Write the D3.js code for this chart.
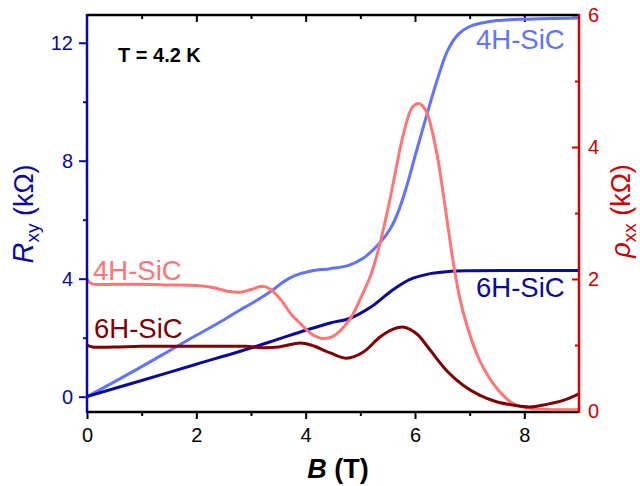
<!DOCTYPE html>
<html><head><meta charset="utf-8">
<script src="https://cdn.jsdelivr.net/npm/d3@7"></script>
<style>
body{margin:0;background:#fff}
svg{display:block}
text{font-family:"Liberation Sans",Arial,sans-serif}
</style>
</head><body>
<svg id="c" width="640" height="486"></svg>
<script>
// ---- data ----
const bTicks = [0, 2, 4, 6, 8];
const bMinor = [1, 3, 5, 7];
const rxyTicks = [0, 4, 8, 12];
const rxyMinor = [2, 6, 10];
const rhoTicks = [0, 2, 4, 6];
const rhoMinor = [1, 3, 5];

// R_xy 4H-SiC (kOhm), left axis
const rxy4H_B = [0, 0.5, 1, 1.5, 2, 2.5, 2.8, 3.0, 3.4, 3.6, 3.8, 4.1, 4.45, 4.8, 5.05, 5.35, 5.55, 5.7, 5.85, 6.0, 6.2, 6.4, 6.6, 6.8, 7.0, 7.2, 7.5, 8.0, 9.0];
const rxy4H   = [0, 0.5, 1.02, 1.55, 2.08, 2.6, 2.94, 3.15, 3.62, 3.9, 4.1, 4.26, 4.34, 4.46, 4.69, 5.2, 5.7, 6.3, 7.15, 8.15, 9.45, 10.7, 11.75, 12.3, 12.55, 12.66, 12.75, 12.8, 12.84];
// R_xy 6H-SiC
const rxy6H_B = [0, 1, 2, 3, 3.5, 4.0, 4.45, 4.8, 5.2, 5.55, 5.9, 6.3, 6.65, 7.0, 8.0, 9.0];
const rxy6H   = [0, 0.55, 1.1, 1.65, 1.95, 2.25, 2.5, 2.65, 3.05, 3.56, 3.97, 4.18, 4.25, 4.27, 4.28, 4.28];
// rho_xx 4H-SiC (kOhm), right axis
const rho4H_B = [0, 0.08, 0.5, 1, 1.5, 2.0, 2.3, 2.6, 2.8, 3.0, 3.2, 3.35, 3.55, 3.75, 3.9, 4.1, 4.3, 4.5, 4.8, 5.0, 5.2, 5.36, 5.54, 5.79, 5.95, 6.07, 6.2, 6.4, 6.55, 6.73, 6.88, 7.18, 7.5, 7.8, 8.1, 8.5, 9.0];
const rho4H   = [2.0, 1.93, 1.92, 1.92, 1.91, 1.9, 1.87, 1.81, 1.8, 1.84, 1.89, 1.85, 1.68, 1.45, 1.33, 1.17, 1.1, 1.13, 1.38, 1.7, 2.08, 2.54, 3.2, 4.2, 4.6, 4.66, 4.55, 3.9, 3.1, 2.1, 1.5, 0.77, 0.34, 0.11, 0.04, 0.02, 0.02];
// rho_xx 6H-SiC
const rho6H_B = [0, 0.1, 0.5, 1, 2, 2.9, 3.2, 3.5, 3.9, 4.1, 4.45, 4.75, 5.05, 5.36, 5.6, 5.8, 6.03, 6.28, 6.58, 6.88, 7.18, 7.49, 7.79, 8.1, 8.41, 8.71, 9.0];
const rho6H   = [1.0, 0.97, 0.97, 0.98, 0.98, 0.98, 0.96, 0.97, 1.03, 1.0, 0.88, 0.8, 0.89, 1.12, 1.24, 1.27, 1.17, 0.92, 0.61, 0.39, 0.24, 0.14, 0.09, 0.06, 0.1, 0.16, 0.26];

// ---- layout ----
const L = 87, R = 579, T = 15, Bt = 412;
const cBlueL = "#6073ff", cBlueD = "#0a0a9c", cSalmon = "#ff7474", cRedD = "#800000";
const cAxL = "#0a0aa0", cAxR = "#d00000";
const svg = d3.select("#c");

const x = d3.scaleLinear().domain([0, 9]).range([L, R]);
const yL = d3.scaleLinear().domain([-0.52, 12.94]).range([Bt, T]);
const yR = d3.scaleLinear().domain([0, 6]).range([411, T]);

function style(g, color, fs) {
  g.select(".domain").remove();
  g.selectAll(".tick line").attr("stroke", color).attr("stroke-width", 2);
  g.selectAll(".tick text").attr("fill", color).attr("font-size", fs).attr("font-family", '"Liberation Sans",Arial,sans-serif');
}

// bottom axis
const gb = svg.append("g").attr("transform", `translate(0,${Bt})`)
  .call(d3.axisBottom(x).tickValues(bTicks).tickSize(7).tickPadding(9).tickFormat(d3.format("d")));
style(gb, "#000", 20);
const gbm = svg.append("g").attr("transform", `translate(0,${Bt})`)
  .call(d3.axisBottom(x).tickValues(bMinor).tickSize(4).tickFormat(""));
style(gbm, "#000", 20);
// top axis (inward)
const gt = svg.append("g").attr("transform", `translate(0,${T})`)
  .call(d3.axisTop(x).tickValues(bTicks.filter(d => d > 0)).tickSize(-7).tickFormat(""));
style(gt, "#000", 20);
const gtm = svg.append("g").attr("transform", `translate(0,${T})`)
  .call(d3.axisTop(x).tickValues(bMinor).tickSize(-4).tickFormat(""));
style(gtm, "#000", 20);
// left axis
const gl = svg.append("g").attr("transform", `translate(${L},0)`)
  .call(d3.axisLeft(yL).tickValues(rxyTicks).tickSize(8).tickPadding(6).tickFormat(d3.format("d")));
style(gl, cAxL, 20);
const glm = svg.append("g").attr("transform", `translate(${L},0)`)
  .call(d3.axisLeft(yL).tickValues(rxyMinor).tickSize(4).tickFormat(""));
style(glm, cAxL, 20);
// right axis (inward ticks)
const gr = svg.append("g").attr("transform", `translate(${R},0)`)
  .call(d3.axisRight(yR).tickValues(rhoTicks).tickSize(-7).tickPadding(9).tickFormat(d3.format("d")));
style(gr, cAxR, 20);
const grm = svg.append("g").attr("transform", `translate(${R},0)`)
  .call(d3.axisRight(yR).tickValues(rhoMinor).tickSize(-4).tickFormat(""));
style(grm, cAxR, 20);

// frame lines
svg.append("line").attr("x1", L).attr("x2", R).attr("y1", T).attr("y2", T).attr("stroke", "#000").attr("stroke-width", 2.5);
svg.append("line").attr("x1", L).attr("x2", R).attr("y1", Bt).attr("y2", Bt).attr("stroke", "#000").attr("stroke-width", 2.5);

// curves
svg.append("clipPath").attr("id", "clip").append("rect").attr("x", L).attr("y", T).attr("width", R - L).attr("height", Bt - T);
const plot = svg.append("g").attr("clip-path", "url(#clip)");
function draw(bs, vs, ys, color) {
  const line = d3.line().x((d) => x(d[0])).y((d) => ys(d[1])).curve(d3.curveCatmullRom.alpha(0.5));
  plot.append("path").attr("d", line(bs.map((b, i) => [b, vs[i]])))
    .attr("fill", "none").attr("stroke", color).attr("stroke-width", 3).attr("stroke-linejoin", "round");
}
draw(rxy4H_B, rxy4H, yL, cBlueL);
draw(rxy6H_B, rxy6H, yL, cBlueD);
draw(rho4H_B, rho4H, yR, cSalmon);
draw(rho6H_B, rho6H, yR, cRedD);

// vertical axis lines on top
svg.append("line").attr("x1", L).attr("x2", L).attr("y1", T - 1).attr("y2", Bt + 1).attr("stroke", cAxL).attr("stroke-width", 2.5);
svg.append("line").attr("x1", R).attr("x2", R).attr("y1", T - 1).attr("y2", Bt + 1).attr("stroke", cAxR).attr("stroke-width", 2.5);

// labels
function txt(xp, yp, s, color, fs, weight) {
  return svg.append("text").attr("x", xp).attr("y", yp).attr("fill", color)
    .attr("font-size", fs).attr("font-weight", weight || "normal").text(s);
}
txt(118, 62, "T = 4.2 K", "#000", 20, "bold");
txt(93, 280, "4H-SiC", cSalmon, 27.5);
txt(94, 338, "6H-SiC", cRedD, 27.5);
txt(476, 49, "4H-SiC", cBlueL, 27.5);
txt(476, 297, "6H-SiC", cBlueD, 27.5);

// x title
const xt = svg.append("text").attr("x", (L + R) / 2 + 5).attr("y", 478).attr("text-anchor", "middle")
  .attr("font-size", 27).attr("font-weight", "bold").attr("fill", "#000");
xt.append("tspan").attr("font-style", "italic").text("B");
xt.append("tspan").text(" (T)");

// left title
const lt = svg.append("text").attr("transform", "translate(33,214) rotate(-90)").attr("text-anchor", "middle")
  .attr("font-size", 27).attr("fill", cAxL);
lt.append("tspan").attr("font-style", "italic").attr("font-size", 29).text("R");
lt.append("tspan").attr("font-size", 19).attr("dy", 6).text("xy");
lt.append("tspan").attr("dy", -6).text(" (kΩ)");

// right title
const rt = svg.append("text").attr("transform", "translate(630,211) rotate(-90)").attr("text-anchor", "middle")
  .attr("font-size", 27).attr("fill", cAxR);
rt.append("tspan").attr("font-style", "italic").text("ρ");
rt.append("tspan").attr("font-size", 19).attr("dy", 6).text("xx");
rt.append("tspan").attr("dy", -6).text(" (kΩ)");
</script>
</body></html>
